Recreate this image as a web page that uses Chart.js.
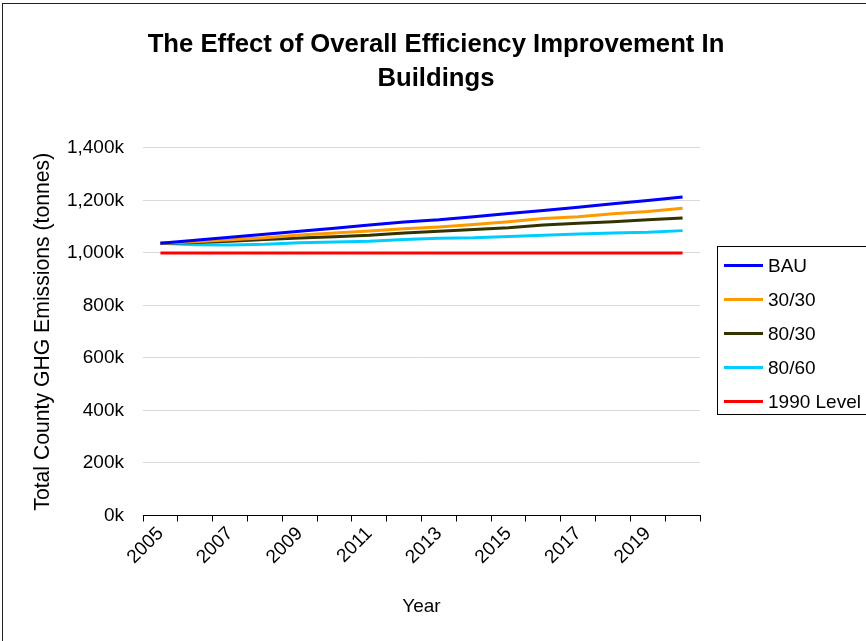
<!DOCTYPE html>
<html>
<head>
<meta charset="utf-8">
<title>The Effect of Overall Efficiency Improvement In Buildings</title>
<script src="https://cdn.jsdelivr.net/npm/chart.js@4.4.1/dist/chart.umd.min.js"></script>
<style>
  html, body { margin: 0; padding: 0; background: #ffffff; }
  canvas { display: block; }
</style>
</head>
<body>
<canvas id="chart" width="866" height="641"></canvas>
<script>
// Years on the category axis
const years = ['2005','2006','2007','2008','2009','2010','2011','2012',
               '2013','2014','2015','2016','2017','2018','2019','2020'];

// Total county GHG emissions, thousands of tonnes
const bau      = [1037, 1048, 1060, 1071, 1083, 1094, 1106, 1118, 1126, 1138, 1150, 1162, 1174, 1187, 1200, 1213];
const eff30_30 = [1037, 1043, 1050, 1058, 1068, 1076, 1084, 1092, 1099, 1108, 1119, 1131, 1138, 1149, 1158, 1170];
const eff80_30 = [1037, 1040, 1045, 1051, 1057, 1062, 1067, 1076, 1083, 1089, 1096, 1106, 1113, 1119, 1126, 1133];
const eff80_60 = [1037, 1031, 1030, 1033, 1039, 1042, 1045, 1051, 1056, 1058, 1063, 1067, 1072, 1076, 1079, 1085];
const level1990 = [1000, 1000, 1000, 1000, 1000, 1000, 1000, 1000, 1000, 1000, 1000, 1000, 1000, 1000, 1000, 1000];

// Value-axis labels, bottom to top
const yTickLabels = ['0k', '200k', '400k', '600k', '800k', '1,000k', '1,200k', '1,400k'];

const seriesNames  = ['BAU', '30/30', '80/30', '80/60', '1990 Level'];
const seriesColors = ['#0000ff', '#ff9900', '#333300', '#00ccff', '#ff0000'];
const seriesData   = [bau, eff30_30, eff80_30, eff80_60, level1990];

const FONT = "'Liberation Sans', Arial, sans-serif";
const LEGEND_WIDTH = 166;

// Legend panel on the right, registered as a layout box so the plot shrinks beside it
function drawSideLegend(chart, box) {
  const ctx = chart.ctx;
  const mid = box.top + box.height / 2;
  const frameLeft = box.left + 17;
  const frameTop = mid - 86;
  ctx.save();
  ctx.strokeStyle = '#000000';
  ctx.lineWidth = 1;
  ctx.strokeRect(Math.round(frameLeft) + 0.5, Math.round(frameTop) + 0.5, 220, 168);
  ctx.font = '19px ' + FONT;
  ctx.textBaseline = 'middle';
  ctx.textAlign = 'left';
  chart.data.datasets.forEach((ds, i) => {
    const y = Math.round(frameTop + 19 + i * 34) + 0.5;
    ctx.strokeStyle = ds.borderColor;
    ctx.lineWidth = 3;
    ctx.beginPath();
    ctx.moveTo(frameLeft + 7, y);
    ctx.lineTo(frameLeft + 46, y);
    ctx.stroke();
    ctx.fillStyle = '#000000';
    ctx.fillText(ds.label, frameLeft + 51, y + 1);
  });
  ctx.restore();
}

const sideLegendPlugin = {
  id: 'sideLegend',
  beforeInit(chart) {
    const box = {
      position: 'right',
      weight: 100,
      fullSize: false,
      options: {},
      left: 0, top: 0, right: 0, bottom: 0, width: 0, height: 0,
      isHorizontal() { return false; },
      update(maxWidth, maxHeight) { this.width = LEGEND_WIDTH; this.height = maxHeight; },
      getPadding() { return { top: 0, left: 0, right: 0, bottom: 0 }; },
      draw() { drawSideLegend(chart, this); }
    };
    Chart.layouts.addBox(chart, box);
  }
};

// Outer chart frame
const framePlugin = {
  id: 'outerFrame',
  afterDraw(chart) {
    const ctx = chart.ctx;
    ctx.save();
    ctx.strokeStyle = '#222222';
    ctx.lineWidth = 1;
    ctx.strokeRect(2.5, 3.5, 900, 700);
    ctx.restore();
  }
};

new Chart(document.getElementById('chart'), {
  type: 'line',
  data: {
    labels: years,
    datasets: seriesNames.map((name, i) => ({
      label: name,
      data: seriesData[i],
      borderColor: seriesColors[i],
      backgroundColor: seriesColors[i],
      borderWidth: 3,
      pointRadius: 0,
      pointHoverRadius: 0,
      tension: 0,
      fill: false
    }))
  },
  options: {
    responsive: false,
    animation: false,
    layout: { padding: { left: 6, right: 0, top: 0, bottom: 0 } },
    plugins: {
      legend: { display: false },
      tooltip: { enabled: false },
      title: {
        display: true,
        text: ['The Effect of Overall Efficiency Improvement In', 'Buildings'],
        color: '#000000',
        font: { family: FONT, size: 25.7, weight: 'bold', lineHeight: 1.3 },
        padding: { top: 28.3, bottom: 52.8 }
      }
    },
    scales: {
      x: {
        type: 'category',
        offset: true,
        grid: {
          offset: true,
          drawOnChartArea: false,
          drawTicks: true,
          tickLength: 6,
          color: '#000000'
        },
        border: { display: true, color: '#000000', width: 1 },
        ticks: {
          autoSkip: false,
          minRotation: 45,
          maxRotation: 45,
          padding: 1,
          color: '#000000',
          font: { family: FONT, size: 19 },
          callback: (value, index) => (index % 2 === 0 ? years[index] : '')
        },
        title: {
          display: true,
          text: 'Year',
          color: '#000000',
          font: { family: FONT, size: 19 },
          padding: { top: 0, bottom: 23 }
        },
        afterFit(scale) { scale.height = 125.5; }
      },
      y: {
        min: 0,
        max: 1400,
        grid: { color: '#d9d9d9', lineWidth: 1, drawTicks: false },
        border: { display: false },
        ticks: {
          stepSize: 200,
          padding: 19,
          color: '#000000',
          font: { family: FONT, size: 19 },
          callback: (value, index) => yTickLabels[index]
        },
        title: {
          display: true,
          text: 'Total County GHG Emissions (tonnes)',
          color: '#000000',
          font: { family: FONT, size: 21.2 },
          padding: { top: 24.5, bottom: 0 }
        },
        afterFit(scale) { scale.width = 137; }
      }
    }
  },
  plugins: [sideLegendPlugin, framePlugin]
});
</script>
</body>
</html>
